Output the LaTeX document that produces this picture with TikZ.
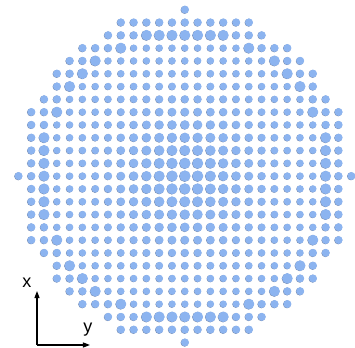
\documentclass[tikz,border=0pt]{standalone}
\usepackage{fontspec}
\setmainfont{Liberation Sans}
\usetikzlibrary{arrows.meta}
\definecolor{dotblue}{RGB}{140,180,240}
\definecolor{dotshade}{RGB}{115,135,170}

\begin{document}
\begin{tikzpicture}[x=12.8pt,y=12.8pt,
    dot/.style={fill=dotblue},
    dotshadow/.style={fill=dotshade},
    axis/.style={line width=1.1pt,-{Triangle[length=7pt,width=5pt]}},
    axlabel/.style={font=\fontsize{18}{18}\selectfont, inner sep=0pt, anchor=base}]
  \useasboundingbox (-185pt,-171pt) rectangle (170pt,176pt);
  % lattice inside a disc, dot size depends on radius
  \foreach \i in {-13,...,13}{
    \foreach \j in {-13,...,13}{
      \pgfmathtruncatemacro{\inside}{(\i*\i+\j*\j<=169) ? 1 : 0}
      \ifnum\inside=1
        \pgfmathsetmacro{\rr}{sqrt(\i*\i+\j*\j)}
        \pgfmathsetmacro{\dotr}{\rr<10.9 ? 3.5+2.1*exp(-\rr*\rr/24.5) : (\rr<11.5 ? 5.3 : 4.0)}
        \fill[dotshadow] ([shift={(-0.4pt,-0.3pt)}]\j,-\i) circle[radius=\dotr pt];
        \fill[dot] (\j,-\i) circle[radius=\dotr pt];
      \fi
    }
  }
  % axes
  \coordinate (o) at (-148pt,-169pt);
  \coordinate (xend) at (-148pt,-115pt);
  \coordinate (yend) at (-95pt,-169pt);
  \draw[axis] (o) -- (xend);
  \draw[axis] (o) -- (yend);
  \node[axlabel] (xlab) at (-158pt,-112pt) {x};
  \node[axlabel] (ylab) at (-97pt,-156pt) {y};
\end{tikzpicture}
\end{document}
